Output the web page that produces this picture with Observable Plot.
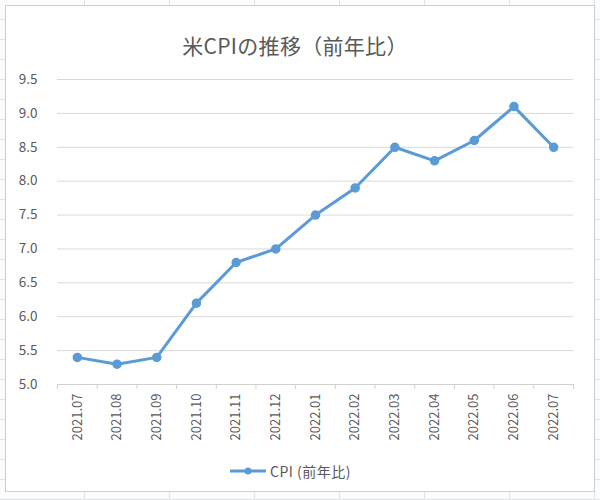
<!DOCTYPE html>
<html>
<head>
<meta charset="utf-8">
<script src="https://cdn.jsdelivr.net/npm/d3@7"></script>
<script src="https://cdn.jsdelivr.net/npm/@observablehq/plot@0.6"></script>
<style>
  html, body { margin: 0; padding: 0; }
  body {
    width: 600px; height: 500px; position: relative; overflow: hidden;
    background-color: #fbfcfd;
    background-image:
      repeating-linear-gradient(to right, transparent 0 84px, #dfe3e6 84px 85px),
      repeating-linear-gradient(to bottom, transparent 0 19px, #dfe3e6 19px 20px);
    font-family: "Noto Sans CJK JP", "Noto Sans", sans-serif;
  }
  #chart {
    position: absolute; left: 5px; top: 5px; width: 588px; height: 485px;
    background: #fff; border: 1px solid #c5d0d8; box-sizing: content-box;
  }
  #title {
    position: absolute; left: 0; top: 24px; width: 578px; text-align: center;
    font-size: 21px; color: #595959; letter-spacing: 0.3px;
  }
  #plot { position: absolute; left: 0; top: 0; }
  #legend {
    position: absolute; top: 455px; left: 223px; display: flex; align-items: center;
    font-size: 14px; color: #595959; letter-spacing: 0.5px;
  }
</style>
</head>
<body>
<div id="chart">
  <div id="title">米CPIの推移（前年比）</div>
  <div id="plot"></div>
  <div id="legend"></div>
</div>
<script>
const months = ["2021.07","2021.08","2021.09","2021.10","2021.11","2021.12","2022.01","2022.02","2022.03","2022.04","2022.05","2022.06","2022.07"];
const cpi = [5.4, 5.3, 5.4, 6.2, 6.8, 7.0, 7.5, 7.9, 8.5, 8.3, 8.6, 9.1, 8.5];
const yTicks = [5.0, 5.5, 6.0, 6.5, 7.0, 7.5, 8.0, 8.5, 9.0, 9.5];
const seriesName = "CPI (前年比)";

const data = months.map((m, i) => ({i, month: m, value: cpi[i]}));
const idx = d3.range(months.length);
const bounds = d3.range(months.length + 1).map(i => i - 0.5);
const blue = "#5b9bd5";
const gray = "#595959";

const chart = Plot.plot({
  width: 588,
  height: 450,
  marginTop: 73,
  marginBottom: 72,
  marginLeft: 51,
  marginRight: 21,
  style: {fontFamily: '"Noto Sans CJK JP", "Noto Sans", sans-serif', fontSize: "13px", color: gray, background: "transparent"},
  x: {type: "linear", domain: [-0.5, months.length - 0.5]},
  y: {domain: [5.0, 9.5]},
  marks: [
    Plot.gridY(yTicks.filter(v => v > 5.0), {stroke: "#d9d9d9", strokeOpacity: 1}),
    Plot.ruleY([5.0], {stroke: "#d0d0d0"}),
    Plot.axisY(yTicks, {tickSize: 0, tickPadding: 20, tickFormat: d => d.toFixed(1), label: null, fill: gray, fontSize: 13.5}),
    Plot.axisX(bounds, {tickSize: 5, tickFormat: () => "", label: null, stroke: "#d0d0d0"}),
    Plot.axisX(idx, {tickSize: 0, tickPadding: 9, tickRotate: -90, tickFormat: i => months[i], label: null, fill: gray, fontSize: 13}),
    Plot.line(data, {x: "i", y: "value", stroke: blue, strokeWidth: 3}),
    Plot.dot(data, {x: "i", y: "value", r: 4, fill: blue, stroke: blue})
  ]
});
document.getElementById("plot").appendChild(chart);

const legend = document.getElementById("legend");
legend.innerHTML = `<svg width="38" height="12" style="margin-right:3px"><line x1="1" y1="6" x2="37" y2="6" stroke="${blue}" stroke-width="3"/><circle cx="19" cy="6" r="3.5" fill="${blue}"/></svg><span>${seriesName}</span>`;
</script>
</body>
</html>
